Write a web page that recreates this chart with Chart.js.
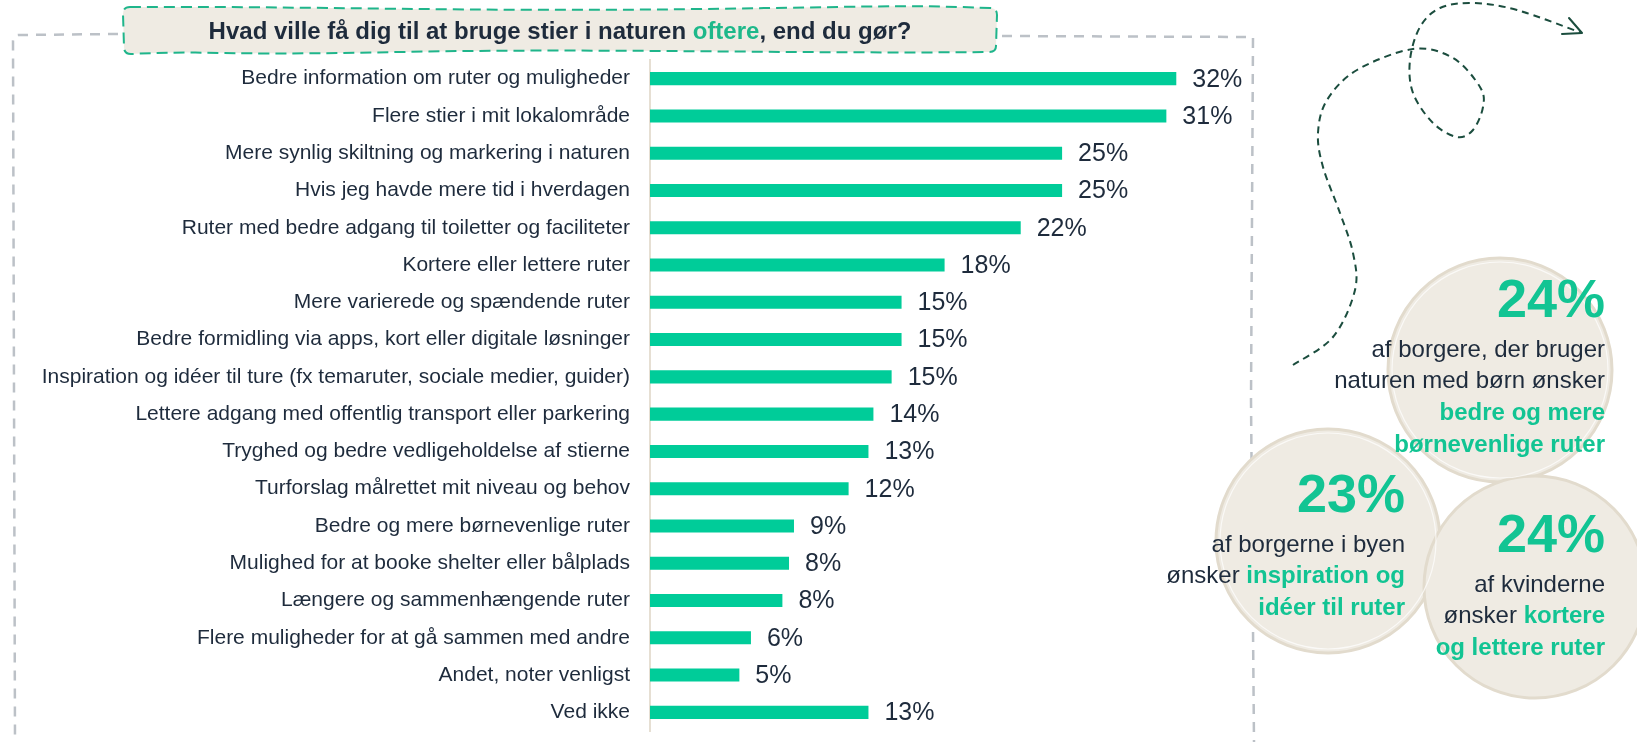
<!DOCTYPE html>
<html>
<head>
<meta charset="utf-8">
<script src="https://cdn.jsdelivr.net/npm/chart.js@4/dist/chart.umd.min.js"></script>
<style>
  html, body { margin: 0; padding: 0; background: #fff; }
  #wrap { position: relative; width: 1637px; height: 742px; overflow: hidden; }
  #chart, #deco { position: absolute; left: 0; top: 0; }
  #deco text { font-family: "Liberation Sans", Arial, sans-serif; }
</style>
</head>
<body>
<div id="wrap">
  <canvas id="chart" width="1637" height="742"></canvas>
  <svg id="deco" width="1637" height="742" viewBox="0 0 1637 742"></svg>
</div>
<script>
// data
const categories = [
  'Bedre information om ruter og muligheder',
  'Flere stier i mit lokalområde',
  'Mere synlig skiltning og markering i naturen',
  'Hvis jeg havde mere tid i hverdagen',
  'Ruter med bedre adgang til toiletter og faciliteter',
  'Kortere eller lettere ruter',
  'Mere varierede og spændende ruter',
  'Bedre formidling via apps, kort eller digitale løsninger',
  'Inspiration og idéer til ture (fx temaruter, sociale medier, guider)',
  'Lettere adgang med offentlig transport eller parkering',
  'Tryghed og bedre vedligeholdelse af stierne',
  'Turforslag målrettet mit niveau og behov',
  'Bedre og mere børnevenlige ruter',
  'Mulighed for at booke shelter eller bålplads',
  'Længere og sammenhængende ruter',
  'Flere muligheder for at gå sammen med andre',
  'Andet, noter venligst',
  'Ved ikke'
];
const shares = [31.8, 31.2, 24.9, 24.9, 22.4, 17.8, 15.2, 15.2, 14.6, 13.5, 13.2, 12.0, 8.7, 8.4, 8.0, 6.1, 5.4, 13.2];
const valueLabels = ['32%', '31%', '25%', '25%', '22%', '18%', '15%', '15%', '15%', '14%', '13%', '12%', '9%', '8%', '8%', '6%', '5%', '13%'];

const NAVY = '#1e2b3c';
const GREEN = '#00cc99';
const FONT = '"Liberation Sans", Arial, sans-serif';

const valueLabelPlugin = {
  id: 'valueLabels',
  afterDatasetsDraw(chart) {
    const ctx = chart.ctx;
    const meta = chart.getDatasetMeta(0);
    ctx.save();
    ctx.font = '25px ' + FONT;
    ctx.fillStyle = NAVY;
    ctx.textBaseline = 'middle';
    meta.data.forEach((bar, i) => {
      ctx.fillText(valueLabels[i], bar.x + 16, bar.y + 1);
    });
    ctx.restore();
  }
};

new Chart(document.getElementById('chart'), {
  type: 'bar',
  data: {
    labels: categories,
    datasets: [{
      data: shares,
      backgroundColor: GREEN,
      barPercentage: 0.35,
      categoryPercentage: 1
    }]
  },
  options: {
    indexAxis: 'y',
    responsive: false,
    animation: false,
    layout: { padding: { top: 60, bottom: 11, left: 0, right: 325 } },
    plugins: { legend: { display: false }, tooltip: { enabled: false } },
    scales: {
      x: { display: false, min: 0, max: 40 },
      y: {
        grid: { display: false, drawTicks: false },
        border: { display: true, color: '#e6dfd3', width: 2 },
        ticks: { color: NAVY, padding: 20, font: { family: FONT, size: 21 } },
        afterFit: (s) => {
          s.width = 650;
          // tick padding should not eat into the plot height
          s.paddingTop = 0;
          s.paddingBottom = 0;
        }
      }
    }
  },
  plugins: [valueLabelPlugin]
});

// decoration
const svg = document.getElementById('deco');
const NS = 'http://www.w3.org/2000/svg';
function el(tag, attrs, parent) {
  const e = document.createElementNS(NS, tag);
  for (const k in attrs) e.setAttribute(k, attrs[k]);
  (parent || svg).appendChild(e);
  return e;
}

// grey dashed frame
el('path', { d: 'M118 34 L19 35 Q13 35 13 41 L15 742', fill: 'none', stroke: '#bcc1c7', 'stroke-width': 2.5, 'stroke-dasharray': '10 8' });
el('path', { d: 'M1002 36 L1253 37 L1251 400 L1254 742', fill: 'none', stroke: '#bcc1c7', 'stroke-width': 2.5, 'stroke-dasharray': '10 8' });

// title box
el('path', {
  d: 'M130 7 C300 6 480 12 700 9 S900 5 990 8 Q997 8 997 15 L996 46 Q996 52 989 52 C800 54 600 48 400 52 S220 50 131 54 Q124 54 124 47 L123 14 Q123 7 130 7 Z',
  fill: '#efebe3', stroke: '#1fb58b', 'stroke-width': 2, 'stroke-dasharray': '11 6'
});
const title = el('text', { x: 560, y: 39, 'text-anchor': 'middle', 'font-size': 24, 'font-weight': 'bold', fill: NAVY });
[['Hvad ville få dig til at bruge stier i naturen ', NAVY], ['oftere', '#1db88a'], [', end du gør?', NAVY]].forEach(([t, c]) => {
  const s = el('tspan', { fill: c }, title); s.textContent = t;
});

// dashed arrow
const pts = [[1293,365],[1333,337],[1355,290],[1353,253],[1340,213],[1323,167],[1318,133],[1327,100],[1357,70],
  [1413,49],[1453,58],[1480,87],[1483,107],[1473,130],[1457,137],[1433,123],[1413,93],[1410,60],[1420,27],
  [1440,8],[1473,3],[1517,10],[1582,33]];
let d = 'M' + pts[0].join(' ');
for (let i = 0; i < pts.length - 1; i++) {
  const p0 = pts[i - 1] || pts[i], p1 = pts[i], p2 = pts[i + 1], p3 = pts[i + 2] || p2;
  const c1 = [p1[0] + (p2[0] - p0[0]) / 6, p1[1] + (p2[1] - p0[1]) / 6];
  const c2 = [p2[0] - (p3[0] - p1[0]) / 6, p2[1] - (p3[1] - p1[1]) / 6];
  d += ' C' + c1.join(' ') + ' ' + c2.join(' ') + ' ' + p2.join(' ');
}
el('path', { d: d, fill: 'none', stroke: '#1b4d3e', 'stroke-width': 2, 'stroke-dasharray': '7 5' });
el('path', { d: 'M1569 18 L1582 33 L1562 34', fill: 'none', stroke: '#1b4d3e', 'stroke-width': 2, 'stroke-linecap': 'round', 'stroke-linejoin': 'round' });

// circles
[[1500, 370, 112], [1328, 541, 112], [1535, 587, 111]].forEach(([cx, cy, r]) => {
  el('circle', { cx, cy, r, fill: '#efebe3', stroke: '#e2dbcd', 'stroke-width': 3 });
});
[[1500, 370, 112], [1328, 541, 112]].forEach(([cx, cy, r]) => {
  el('circle', { cx, cy, r: r - 4, fill: 'none', stroke: '#ffffff', 'stroke-width': 1.2, opacity: 0.7 });
});

const TGREEN = '#12c493';
function callout(x, lines) {
  lines.forEach(([y, parts, size, bold]) => {
    const t = el('text', { x, y, 'text-anchor': 'end', 'font-size': size || 24 });
    parts.forEach(([txt, green]) => {
      const s = el('tspan', { fill: green ? TGREEN : NAVY, 'font-weight': green || bold ? 'bold' : 'normal' }, t);
      s.textContent = txt;
    });
  });
}
callout(1605, [
  [317, [['24%', true]], 54],
  [357, [['af borgere, der bruger']]],
  [388, [['naturen med børn ønsker']]],
  [420, [['bedre og mere', true]]],
  [452, [['børnevenlige ruter', true]]]
]);
callout(1405, [
  [512, [['23%', true]], 54],
  [552, [['af borgerne i byen']]],
  [583, [['ønsker '], ['inspiration og', true]]],
  [615, [['idéer til ruter', true]]]
]);
callout(1605, [
  [552, [['24%', true]], 54],
  [592, [['af kvinderne']]],
  [623, [['ønsker '], ['kortere', true]]],
  [655, [['og lettere ruter', true]]]
]);
</script>
</body>
</html>
